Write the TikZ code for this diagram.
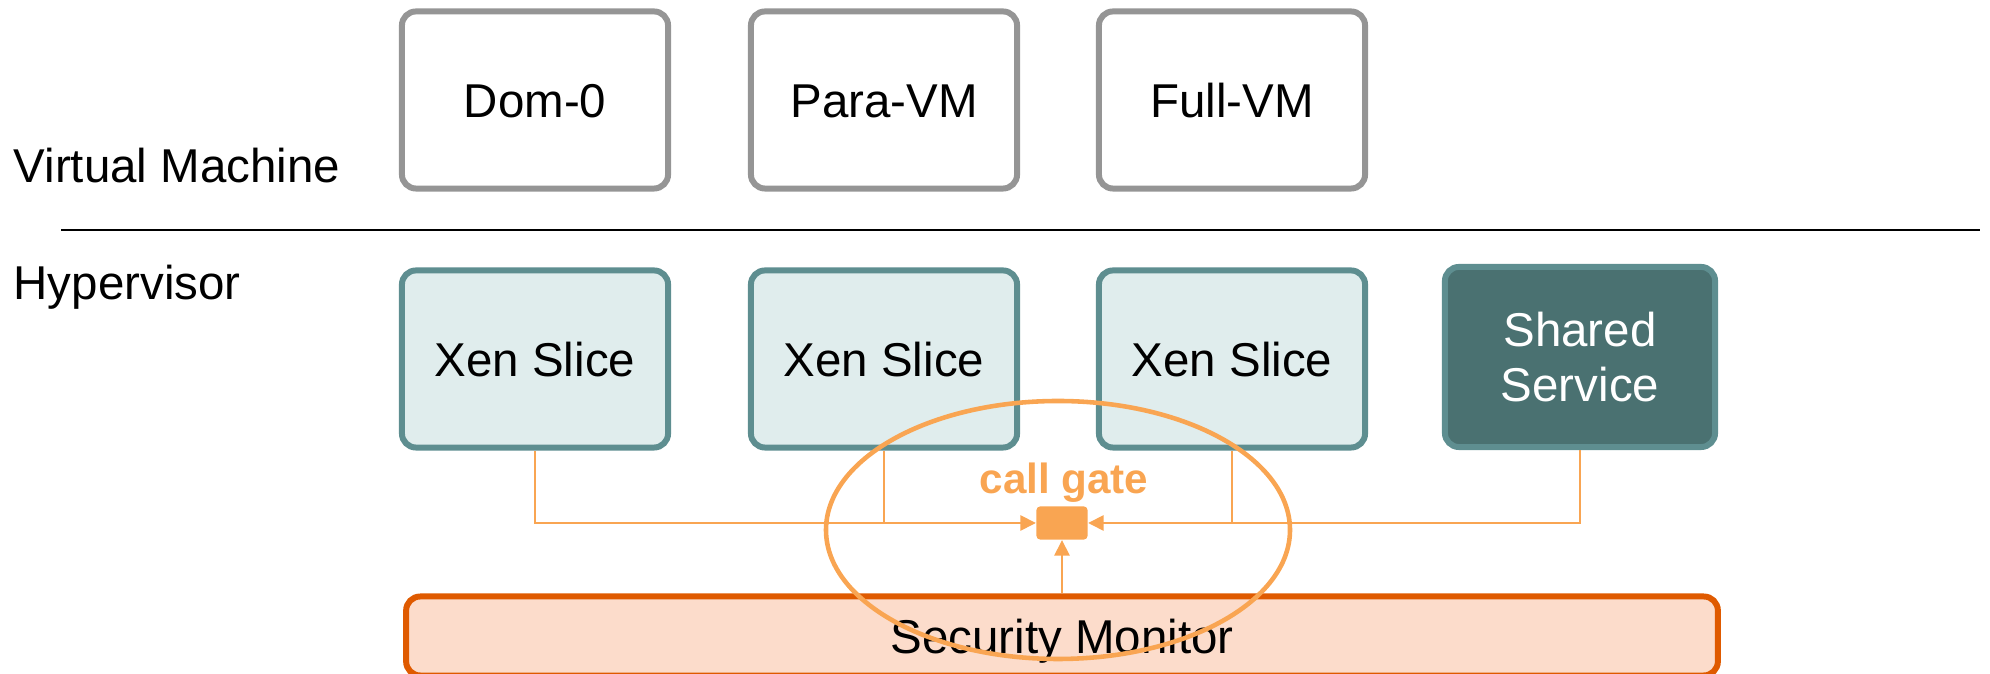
\documentclass[tikz,border=0pt]{standalone}
\usepackage{fontspec}
\setmainfont{Liberation Sans}
\usepackage{tikz}
\usetikzlibrary{arrows.meta}
\definecolor{vmgray}{HTML}{959595}
\definecolor{xenfill}{HTML}{E0EDED}
\definecolor{xenline}{HTML}{5E8E90}
\definecolor{svcfill}{HTML}{4A7171}
\definecolor{monfill}{HTML}{FCDCCB}
\definecolor{monline}{HTML}{DF5A00}
\definecolor{gateor}{HTML}{F9A552}
\newcommand{\boxfont}{\fontsize{13.5}{15.6}\selectfont}
\tikzset{
  vmbox/.style={draw=vmgray, fill=white, line width=1.7pt, rounded corners=4pt,
    minimum width=2.66cm, minimum height=1.77cm, font=\boxfont,
    text height=13pt, text depth=2.8pt},
  xenbox/.style={vmbox, draw=xenline, fill=xenfill},
  svcbox/.style={draw=xenline, fill=svcfill, line width=1.7pt, rounded corners=4pt,
    minimum width=2.70cm, minimum height=1.80cm, font=\boxfont,
    text=white, align=center},
  monbox/.style={draw=monline, fill=monfill, line width=1.7pt, rounded corners=4pt,
    minimum width=13.11cm, minimum height=0.74cm, font=\boxfont,
    text height=13pt, text depth=2.8pt},
  layer/.style={anchor=west, inner sep=0pt, font=\boxfont},
  gatebox/.style={fill=gateor, rounded corners=1pt, minimum width=0.51cm, minimum height=0.33cm, inner sep=0pt},
  wire/.style={draw=gateor, line width=0.45pt},
  tip/.style={-{Triangle[length=4.4pt,width=4.4pt]}},
}

\begin{document}
\begin{tikzpicture}[x=0.01cm, y=-0.01cm]
  \useasboundingbox (0,0) rectangle (1990,674);
  % layers
  \node[layer] (vmlab) at (13,166) {Virtual Machine};
  \node[layer] (hvlab) at (13,287) {Hypervisor};
  \draw[line width=0.45pt] (61,230) -- (1980,230);
  % virtual machines
  \node[vmbox] (dom0) at (535,100) {Dom-0};
  \node[vmbox] (para) at (884,100) {Para-VM};
  \node[vmbox] (full) at (1232,100) {Full-VM};
  % hypervisor slices
  \node[xenbox] (xs1) at (535,359) {Xen Slice};
  \node[xenbox] (xs2) at (884,359) {Xen Slice};
  \node[xenbox] (xs3) at (1232,359) {Xen Slice};
  \node[svcbox] (svc) at (1580,357) {Shared\\Service};
  \node[monbox] (mon) at (1062,636) {Security Monitor};
  % call gate
  \node[gatebox] (gate) at (1062,523) {};
  \node[text=gateor, font=\fontsize{12}{13}\selectfont\bfseries] (gatelab) at (1064,483) {call gate};
  \draw[wire,tip] (xs1.south) |- (gate.west);
  \draw[wire] (xs2.south) -- (xs2.south |- gate.west);
  \draw[wire] (xs3.south) -- (xs3.south |- gate.east);
  \draw[wire,tip] (svc.south) |- (gate.east);
  \draw[wire,tip] (mon.north -| gate) -- (gate.south);
  \draw[draw=gateor, line width=1.3pt] (1058,530) ellipse [x radius=232, y radius=129];
\end{tikzpicture}
\end{document}
